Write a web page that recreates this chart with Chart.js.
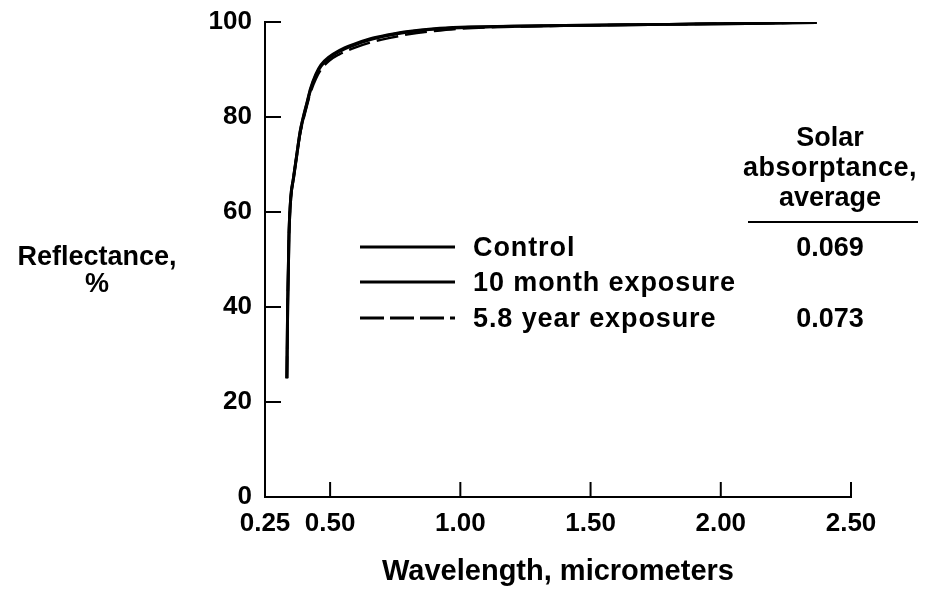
<!DOCTYPE html>
<html>
<head>
<meta charset="utf-8">
<script src="https://cdn.jsdelivr.net/npm/chart.js@4.4.1/dist/chart.umd.min.js"></script>
<style>
  html, body { margin: 0; padding: 0; background: #fff; }
  #wrap { position: relative; width: 925px; height: 590px; }
  canvas { position: absolute; left: 0; top: 0; }
  .t { position: absolute; font-family: "Liberation Sans", Arial, Helvetica, sans-serif; font-weight: bold; font-size: 27px; color: #000; white-space: nowrap; line-height: 1; }
  .c { transform: translate(-50%, -50%); text-align: center; }
  .l { transform: translateY(-50%); letter-spacing: 0.9px; }
</style>
</head>
<body>
<div id="wrap">
  <canvas id="chart" width="925" height="590"></canvas>
  <div class="t c" style="left:97px; top:256px;">Reflectance,</div>
  <div class="t c" style="left:97px; top:283px;">%</div>
  <div class="t c" style="left:830px; top:137px;">Solar</div>
  <div class="t c" style="left:830px; top:167px; letter-spacing:0.5px;">absorptance,</div>
  <div class="t c" style="left:830px; top:197px;">average</div>
  <svg style="position:absolute; left:0; top:0;" width="925" height="590">
    <line x1="748" y1="222" x2="918" y2="222" stroke="#000" stroke-width="2"/>
    <line x1="360" y1="247" x2="455" y2="247" stroke="#000" stroke-width="3"/>
    <line x1="360" y1="282" x2="455" y2="282" stroke="#000" stroke-width="3"/>
    <line x1="360" y1="318" x2="455" y2="318" stroke="#000" stroke-width="3" stroke-dasharray="24,6"/>
  </svg>
  <div id="legend"></div>
</div>
<script>
// ---- data ----
const seriesNames = ["Control", "10 month exposure", "5.8 year exposure"];
const absorptance = ["0.069", "", "0.073"];
const xTickValues = [0.25, 0.50, 1.00, 1.50, 2.00, 2.50];
const yTickValues = [0, 20, 40, 60, 80, 100];

const controlWl   = [0.334, 0.337, 0.342, 0.349, 0.359, 0.372, 0.385, 0.397, 0.411, 0.425, 0.445, 0.465, 0.495, 0.535, 0.585, 0.655, 0.725, 0.80, 0.90, 1.00, 1.20, 1.50, 1.80, 2.10, 2.368];
const controlR    = [25, 40, 55, 63, 67, 72, 77, 80, 83, 86, 89, 91, 92.6, 94, 95.2, 96.5, 97.3, 98, 98.6, 98.9, 99.1, 99.3, 99.5, 99.7, 99.9];
const month10Wl   = [0.334, 0.337, 0.342, 0.349, 0.359, 0.372, 0.385, 0.397, 0.411, 0.425, 0.445, 0.465, 0.495, 0.535, 0.585, 0.655, 0.725, 0.80, 0.90, 1.00, 1.20, 1.50, 1.80, 2.10, 2.368];
const month10R    = [25, 40, 55, 63, 67, 72, 76.8, 79.8, 82.8, 85.7, 88.7, 90.7, 92.4, 93.8, 95.0, 96.3, 97.2, 97.9, 98.5, 98.8, 99.1, 99.3, 99.5, 99.7, 99.9];
const year58Wl    = [0.334, 0.337, 0.342, 0.349, 0.359, 0.372, 0.385, 0.397, 0.411, 0.425, 0.445, 0.465, 0.495, 0.535, 0.585, 0.655, 0.725, 0.80, 0.90, 1.00, 1.20, 1.50, 1.80, 2.10, 2.368];
const year58R     = [25, 40, 55, 63, 67, 72, 76.5, 79.4, 82.4, 85.2, 88, 90, 91.8, 93.2, 94.4, 95.7, 96.6, 97.4, 98.1, 98.6, 99.0, 99.3, 99.5, 99.7, 99.9];

const FONT = "'Liberation Sans', Arial, Helvetica, sans-serif";

function pts(xs, ys) { return xs.map((x, i) => ({ x: x, y: ys[i] })); }

// legend text (HTML)
const legendY = [247, 282, 318];
const lg = document.getElementById('legend');
seriesNames.forEach((n, i) => {
  const d = document.createElement('div');
  d.className = 't l'; d.style.left = '473px'; d.style.top = legendY[i] + 'px'; d.textContent = n;
  lg.appendChild(d);
  if (absorptance[i]) {
    const v = document.createElement('div');
    v.className = 't c'; v.style.left = '830px'; v.style.top = legendY[i] + 'px'; v.textContent = absorptance[i];
    lg.appendChild(v);
  }
});

const innerTicks = {
  id: 'innerTicks',
  afterDraw(chart) {
    const ctx = chart.ctx, xs = chart.scales.x, ys = chart.scales.y, a = chart.chartArea;
    ctx.save();
    ctx.strokeStyle = '#000'; ctx.lineWidth = 2;
    yTickValues.forEach(v => {
      if (v === 0) return;
      const py = ys.getPixelForValue(v);
      ctx.beginPath(); ctx.moveTo(a.left, py); ctx.lineTo(a.left + 16, py); ctx.stroke();
    });
    xTickValues.forEach(v => {
      if (v === 0.25) return;
      const px = xs.getPixelForValue(v);
      ctx.beginPath(); ctx.moveTo(px, a.bottom); ctx.lineTo(px, a.bottom - 15); ctx.stroke();
    });
    ctx.restore();
  }
};

new Chart(document.getElementById('chart'), {
  type: 'line',
  data: {
    datasets: [
      { label: seriesNames[2], data: pts(year58Wl, year58R), borderColor: '#000', borderWidth: 2.5, borderDash: [22, 7], pointRadius: 0, cubicInterpolationMode: 'monotone', fill: false },
      { label: seriesNames[1], data: pts(month10Wl, month10R), borderColor: '#000', borderWidth: 3, pointRadius: 0, cubicInterpolationMode: 'monotone', fill: false },
      { label: seriesNames[0], data: pts(controlWl, controlR), borderColor: '#000', borderWidth: 3, pointRadius: 0, cubicInterpolationMode: 'monotone', fill: false }
    ]
  },
  options: {
    responsive: false,
    animation: false,
    layout: { padding: { left: 0, right: 74, top: 22, bottom: 0 } },
    plugins: { legend: { display: false }, tooltip: { enabled: false } },
    scales: {
      x: {
        type: 'linear', min: 0.25, max: 2.5,
        afterBuildTicks: s => { s.ticks = xTickValues.map(v => ({ value: v })); },
        afterFit: s => { s.height = 93; s.paddingLeft = 0; s.paddingRight = 0; },
        grid: { display: true, drawOnChartArea: false, drawTicks: false, color: '#000' },
        border: { display: true, color: '#000', width: 2 },
        ticks: { padding: 11, color: '#000', font: { family: FONT, size: 26, weight: 'bold' }, maxRotation: 0, autoSkip: false,
                 callback: v => Number(v).toFixed(2) },
        title: { display: true, text: 'Wavelength, micrometers', color: '#000', font: { family: FONT, size: 29, weight: 'bold' }, padding: { top: 0, bottom: 1 } }
      },
      y: {
        type: 'linear', min: 0, max: 100,
        afterBuildTicks: s => { s.ticks = yTickValues.map(v => ({ value: v })); },
        afterFit: s => { s.width = 265; s.paddingTop = 0; s.paddingBottom = 0; },
        grid: { display: true, drawOnChartArea: false, drawTicks: false, color: '#000' },
        border: { display: true, color: '#000', width: 2 },
        ticks: { padding: 13, color: '#000', font: { family: FONT, size: 26, weight: 'bold' } }
      }
    }
  },
  plugins: [innerTicks]
});
</script>
</body>
</html>
